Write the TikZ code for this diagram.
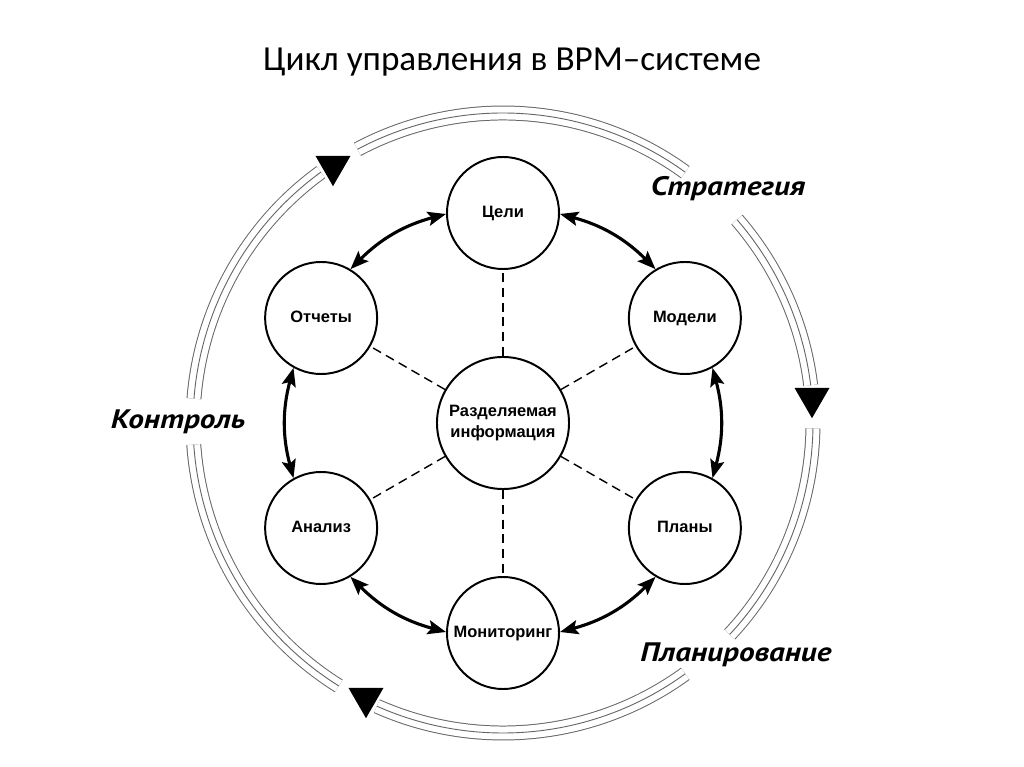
\documentclass[tikz,border=0pt]{standalone}
\usepackage{fontspec}
\setmainfont{Liberation Sans}
\newfontfamily\titlefont{Carlito}
\newfontfamily\phasefont[FakeStretch=1.17]{PT Sans}
\usetikzlibrary{arrows.meta,shapes.geometric}

\begin{document}
\begin{tikzpicture}[
        x=0.025cm, y=0.025cm,
        stage/.style={draw, circle, line width=1.4pt, minimum size=2.8cm, inner sep=0pt, text height=8.5pt, text depth=2.5pt, font=\bfseries\fontsize{11.7}{14}\selectfont},
        core/.style={draw, circle, line width=1.4pt, minimum size=3.3cm, inner sep=0pt, align=center, font=\bfseries\fontsize{11.7}{15}\selectfont},
        phase/.style={font=\phasefont\bfseries\itshape\fontsize{19}{22}\selectfont},
        marker/.style={fill=black, regular polygon, regular polygon sides=3, shape border rotate=180, minimum size=1.01cm, inner sep=0pt},
        ring/.style={preaction={draw, black!60, line width=10.6pt}, draw=white, line width=9.2pt, postaction={draw, black!60, line width=0.65pt}},
        dashline/.style={line width=1pt, dash pattern=on 6.5pt off 4pt},
        twoway/.style={{Stealth[length=13pt,width=10pt,inset=2.5pt]}-{Stealth[length=13pt,width=10pt,inset=2.5pt]}, line width=2.2pt}
    ]
        \path[fill=white] (-503,-344) rectangle (521,423);

        % Title
        \node[font=\titlefont\fontsize{25}{30}\selectfont] (title) at (9,361) {Цикл управления в BPM–системе};

        % Centre
        \node[core] (info) at (0,0) {Разделяемая\\информация};

        % Stages
        \node[stage] (goals) at (90:210) {Цели};
        \node[stage] (models) at (30:210) {Модели};
        \node[stage] (plans) at (-30:210) {Планы};
        \node[stage] (monitor) at (-90:210) {Мониторинг};
        \node[stage] (analysis) at (-150:210) {Анализ};
        \node[stage] (reports) at (150:210) {Отчеты};

        % Links to the centre
        \draw[dashline] (info) -- (goals);
        \draw[dashline] (info) -- (models);
        \draw[dashline] (info) -- (plans);
        \draw[dashline] (info) -- (monitor);
        \draw[dashline] (info) -- (analysis);
        \draw[dashline] (info) -- (reports);

        % Arrows between stages
        \draw[twoway] (goals.181) to[bend right=15] (reports.59);
        \draw[twoway] (reports.241) to[bend right=15] (analysis.119);
        \draw[twoway] (analysis.301) to[bend right=15] (monitor.179);
        \draw[twoway] (monitor.1) to[bend right=15] (plans.239);
        \draw[twoway] (plans.61) to[bend right=15] (models.299);
        \draw[twoway] (models.121) to[bend right=15] (goals.359);

        % Outer ring
        \draw[ring] (info.center) ++(7:310) arc (7:41:310);
        \draw[ring] (info.center) ++(54:310) arc (54:118:310);
        \draw[ring] (info.center) ++(126:310) arc (126:175.5:310);
        \draw[ring] (info.center) ++(184:310) arc (184:238:310);
        \draw[ring] (info.center) ++(246:310) arc (246:306:310);
        \draw[ring] (info.center) ++(317:310) arc (317:359:310);

        % Markers on the ring
        \node[marker] (mark1) at (-170,257) {};
        \node[marker] (mark2) at (309,25) {};
        \node[marker] (mark3) at (-137,-275) {};

        % Phases
        \node[phase] (strategy) at (225,234) {Стратегия};
        \node[phase] (control) at (-325,1) {Контроль};
        \node[phase] (planning) at (233,-232) {Планирование};
    \end{tikzpicture}
\end{document}
